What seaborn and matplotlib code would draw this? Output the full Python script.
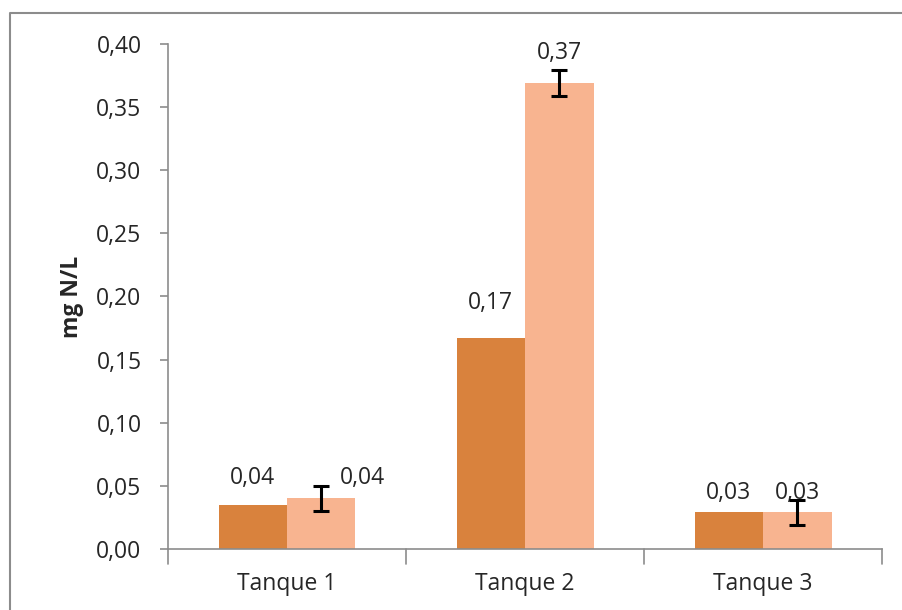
import numpy as np
import pandas as pd
import matplotlib
matplotlib.use('Agg')
import matplotlib.pyplot as plt
import seaborn as sns
from matplotlib.lines import Line2D

### Data

tanques = ['Tanque 1', 'Tanque 2', 'Tanque 3']
series = ['Serie 1', 'Serie 2']
serie1 = [0.035, 0.167, 0.029]
serie2 = [0.040, 0.369, 0.029]
serie2_err = [0.010, 0.0105, 0.010]
labels1 = ['0,04', '0,17', '0,03']
labels2 = ['0,04', '0,37', '0,03']

df = pd.DataFrame({
    'Tanque': tanques * 2,
    'Serie': [series[0]] * 3 + [series[1]] * 3,
    'valor': serie1 + serie2,
})

sns.set_style('white')
plt.rcParams['font.family'] = ['Open Sans', 'DejaVu Sans']
fs = 16.5

fig = plt.figure(figsize = (9.03, 6.10), dpi = 100)
ax = fig.add_axes([0.186, 0.100, 0.791, 0.828])

sns.barplot(data = df, x = 'Tanque', y = 'valor', hue = 'Serie',
            palette = ['#D9823D', '#F8B490'], width = 0.575,
            errorbar = None, saturation = 1, ax = ax, legend = False,
            linewidth = 0)

# error bars only on the second series
bars2 = ax.containers[1]
xs2 = [b.get_x() + b.get_width() / 2 for b in bars2]
ax.errorbar(xs2, serie2, yerr = serie2_err, fmt = 'none', ecolor = 'black',
            elinewidth = 2.2, capsize = 6, capthick = 2.2, zorder = 5)

# data labels (offsets in points, as placed in the original)
off1 = [(0, 19), (0, 25), (0, 14)]
off2 = [(30, 15), (0, 22), (0, 14)]
for bars, vals, labs, offs in [(ax.containers[0], serie1, labels1, off1),
                               (bars2, serie2, labels2, off2)]:
    for b, v, lab, o in zip(bars, vals, labs, offs):
        ax.annotate(lab, (b.get_x() + b.get_width() / 2, v), xytext = o,
                    textcoords = 'offset points', ha = 'center', va = 'center',
                    fontsize = fs, color = '#262626')

ax.set_ylim(0, 0.40)
ax.set_xlim(-0.5, 2.5)
ax.set_yticks(np.arange(0, 0.41, 0.05))
ax.set_yticklabels([f'{t:.2f}'.replace('.', ',') for t in np.arange(0, 0.41, 0.05)])
ax.set_xlabel('')
ax.set_ylabel('mg N/L', fontsize = fs, fontweight = 'bold', labelpad = 9)

for side in ['top', 'right']:
    ax.spines[side].set_visible(False)
for side in ['left', 'bottom']:
    ax.spines[side].set_color('#8C8C8C')
    ax.spines[side].set_linewidth(1.2)

ax.tick_params(axis = 'y', direction = 'out', length = 6, width = 1.2,
               color = '#8C8C8C', labelsize = fs, labelcolor = '#262626', pad = 13, left = True)
ax.tick_params(axis = 'x', bottom = False, labelsize = fs, labelcolor = '#262626', pad = 13)

# category separators below the x axis
for xt in [-0.5, 0.5, 1.5, 2.5]:
    ax.plot([xt, xt], [0, -0.012], color = '#8C8C8C', lw = 1.2, clip_on = False)

# chart area border (left and top visible)
fig.add_artist(Line2D([0.011, 0.011, 1.0], [0.0, 0.979, 0.979],
                      transform = fig.transFigure, color = '#8C8C8C', lw = 1.5))

fig.savefig('out.png', dpi = 100)
